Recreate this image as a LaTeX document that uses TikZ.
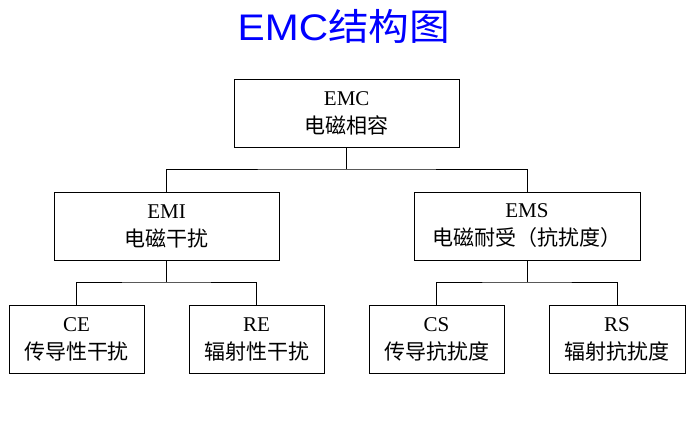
\documentclass[tikz,border=0pt]{standalone}
\usepackage{fontspec}
\setmainfont{Liberation Serif}
\newfontfamily\cjk{Noto Sans CJK SC}
\newfontfamily\titlefont{Liberation Sans}

\tikzset{every picture/.style={line width=1pt}}
\tikzset{
  blk/.style={draw, rectangle, minimum height=68, inner sep=0.75pt, align=center, font=\fontsize{21}{28}\selectfont},
  widebox/.style={blk, minimum width=225},
  leafbox/.style={blk, minimum width=135},
}

\begin{document}
\begin{tikzpicture}[x=1pt,y=1pt,yscale=-1,xscale=1]
\path[use as bounding box] (0,0) rectangle (689,431);

% Title
\node (title) at (344,26) [text=blue, font=\titlefont\fontsize{37}{40}\selectfont, xscale=1.1] {EMC{\cjk 结构图}};

%Shape: Rectangle [top]
\node [widebox] (emc) at (346.75,113) {EMC\\{\cjk 电磁相容}};
%Shape: Rectangle [middle]
\node [widebox] (emi) at (166.5,226) {EMI\\{\cjk 电磁干扰}};
\node [widebox, minimum width=226] (ems) at (527,226) {EMS\\{\cjk 电磁耐受（抗扰度）}};
%Shape: Rectangle [bottom]
\node [leafbox] (ce) at (76.5,339) {CE\\{\cjk 传导性干扰}};
\node [leafbox] (re) at (256.5,339) {RE\\{\cjk 辐射性干扰}};
\node [leafbox] (cs) at (436.5,339) {CS\\{\cjk 传导抗扰度}};
\node [leafbox, minimum width=136] (rs) at (617,339) {RS\\{\cjk 辐射抗扰度}};

% Joints
\coordinate (j1) at (346.75,169);
\coordinate (j2) at (166.5,282);
\coordinate (j3) at (527,282);

% Connectors
\draw (emc.south) -- (j1);
\draw (emi.north) |- (j1) -| (ems.north);
\draw (emi.south) -- (j2);
\draw (ce.north) |- (j2) -| (re.north);
\draw (ems.south) -- (j3);
\draw (cs.north) |- (j3) -| (rs.north);

\end{tikzpicture}
\end{document}
